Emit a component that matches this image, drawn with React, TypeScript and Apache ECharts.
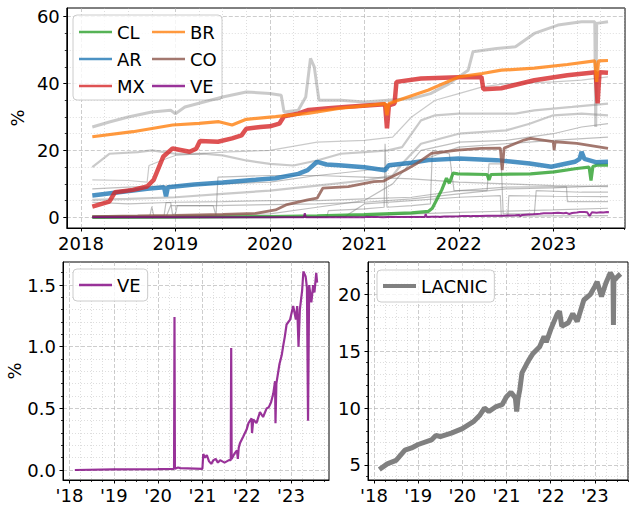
import React, { useEffect, useRef } from 'react';
import * as echarts from 'echarts';

type P = [number, number];

// ---------- tick labels ----------
const YEAR_TICKS = [2018, 2019, 2020, 2021, 2022, 2023];
const TOP_YEAR_LABELS = ['2018', '2019', '2020', '2021', '2022', '2023'];
const SHORT_YEAR_LABELS = ["'18", "'19", "'20", "'21", "'22", "'23"];
const TOP_Y_TICKS = [0, 20, 40, 60];
const VE_Y_TICKS = [0, 0.5, 1.0, 1.5];
const VE_Y_LABELS = ['0.0', '0.5', '1.0', '1.5'];
const LACNIC_Y_TICKS = [5, 10, 15, 20];

// ---------- highlighted countries ([year, %]) ----------
const CL: P[] = [[2018.12, 0.0], [2019.0, 0.05], [2020.0, 0.2], [2020.5, 0.4], [2021.0, 0.8], [2021.5, 1.3], [2021.68, 1.8], [2021.72, 2.7], [2021.82, 8.2], [2021.87, 11.7], [2021.9, 10.2], [2021.94, 13.2], [2021.99, 13], [2022.3, 12.8], [2022.32, 11.2], [2022.34, 12.8], [2022.76, 13], [2023.01, 13.6], [2023.25, 14.6], [2023.38, 15], [2023.4, 11], [2023.42, 15.2], [2023.46, 15.6], [2023.58, 15.6]];
const AR: P[] = [[2018.12, 6.5], [2018.4, 7.5], [2018.7, 8.5], [2018.88, 9.0], [2018.9, 6.3], [2018.92, 9.0], [2019.2, 9.8], [2019.5, 10.4], [2019.85, 11.2], [2020.06, 11.7], [2020.3, 13], [2020.4, 14.1], [2020.5, 16.6], [2020.6, 15.8], [2020.73, 15.6], [2021.0, 15.0], [2021.22, 14.1], [2021.26, 15.6], [2021.5, 16.3], [2021.68, 17.1], [2022.0, 17.6], [2022.4, 17.1], [2022.75, 16.1], [2022.98, 15.1], [2023.23, 16.6], [2023.28, 17.5], [2023.3, 19.6], [2023.33, 17.5], [2023.45, 16.5], [2023.58, 16.6]];
const MX: P[] = [[2018.12, 3.2], [2018.3, 4.7], [2018.36, 7.5], [2018.55, 8.2], [2018.7, 9.2], [2018.77, 11.2], [2018.87, 18.1], [2018.97, 20.6], [2019.15, 19.6], [2019.22, 20.5], [2019.26, 22.8], [2019.45, 22.6], [2019.6, 23.6], [2019.7, 24.5], [2019.75, 26.5], [2019.9, 27], [2020.0, 27.2], [2020.1, 28], [2020.15, 30.2], [2020.3, 31], [2020.41, 32.1], [2020.62, 32.6], [2020.83, 33.1], [2021.1, 33.6], [2021.22, 33.8], [2021.24, 26.6], [2021.26, 33.5], [2021.32, 34], [2021.34, 40.5], [2021.6, 41.5], [2022.0, 41.9], [2022.24, 42.0], [2022.26, 38.3], [2022.45, 38.6], [2022.8, 41], [2023.15, 42.5], [2023.45, 43.4], [2023.47, 34.1], [2023.49, 43.4], [2023.58, 43.2]];
const BR: P[] = [[2018.12, 24.1], [2018.55, 25.6], [2018.97, 27.6], [2019.25, 28.1], [2019.46, 28.6], [2019.6, 27.6], [2019.75, 29.3], [2020.06, 30.1], [2020.4, 31.1], [2020.73, 32.6], [2021.1, 33.6], [2021.22, 34], [2021.24, 30.5], [2021.26, 34], [2021.36, 35], [2021.68, 38.1], [2022.0, 42], [2022.25, 43], [2022.45, 44], [2022.8, 44.6], [2023.15, 45.7], [2023.44, 46.8], [2023.46, 40.5], [2023.48, 46.8], [2023.58, 46.9]];
const CO: P[] = [[2018.12, 0.2], [2018.6, 0.4], [2019.0, 0.6], [2019.5, 0.9], [2019.85, 1.2], [2020.06, 2.2], [2020.17, 3.7], [2020.4, 5.2], [2020.5, 5.7], [2020.56, 8.7], [2020.83, 9.2], [2021.1, 10.7], [2021.2, 10.8], [2021.26, 11.7], [2021.43, 14.1], [2021.55, 16], [2021.71, 19.1], [2021.99, 20.1], [2022.24, 20.6], [2022.44, 20.7], [2022.46, 14.1], [2022.48, 20.7], [2022.69, 23.1], [2022.76, 23.6], [2023.0, 22.6], [2023.01, 20.1], [2023.02, 22.6], [2023.25, 22.1], [2023.58, 20.6]];
const VE: P[] = [[2018.12, 0], [2019.0, 0.005], [2020.0, 0.008], [2020.36, 0.01], [2020.37, 1.24], [2020.38, 0.01], [2020.45, 0.02], [2020.5, 0.015], [2021.0, 0.01], [2021.02, 0.13], [2021.06, 0.1], [2021.1, 0.12], [2021.15, 0.07], [2021.2, 0.05], [2021.25, 0.08], [2021.3, 0.09], [2021.35, 0.06], [2021.4, 0.08], [2021.5, 0.06], [2021.6, 0.08], [2021.64, 0.08], [2021.65, 0.99], [2021.66, 0.09], [2021.72, 0.13], [2021.78, 0.16], [2021.8, 0.09], [2021.82, 0.18], [2021.85, 0.22], [2021.92, 0.27], [2022.0, 0.33], [2022.04, 0.38], [2022.11, 0.42], [2022.12, 0.3], [2022.15, 0.41], [2022.22, 0.38], [2022.3, 0.47], [2022.37, 0.43], [2022.45, 0.5], [2022.5, 0.51], [2022.55, 0.55], [2022.6, 0.62], [2022.64, 0.72], [2022.65, 0.38], [2022.67, 0.7], [2022.74, 0.86], [2022.79, 0.93], [2022.83, 1.02], [2022.86, 1.08], [2022.9, 1.18], [2022.98, 1.22], [2023.05, 1.33], [2023.11, 1.22], [2023.14, 1.33], [2023.17, 1.0], [2023.2, 1.3], [2023.25, 1.45], [2023.28, 1.61], [2023.33, 1.57], [2023.36, 1.48], [2023.385, 0.4], [2023.41, 1.5], [2023.46, 1.36], [2023.5, 1.5], [2023.53, 1.44], [2023.57, 1.6], [2023.59, 1.52]];
const LACNIC: P[] = [[2018.12, 4.6], [2018.3, 5.1], [2018.5, 5.4], [2018.7, 6.3], [2018.85, 6.5], [2019.0, 6.8], [2019.3, 7.2], [2019.4, 7.6], [2019.5, 7.5], [2019.75, 7.8], [2020.0, 8.2], [2020.25, 8.8], [2020.4, 9.4], [2020.5, 10.0], [2020.6, 9.7], [2020.75, 10.1], [2020.9, 10.3], [2021.0, 11.0], [2021.1, 11.4], [2021.2, 10.9], [2021.23, 9.7], [2021.26, 10.8], [2021.3, 11.6], [2021.35, 13.1], [2021.5, 14.2], [2021.6, 14.8], [2021.75, 15.4], [2021.85, 16.3], [2021.9, 15.8], [2022.0, 16.9], [2022.15, 18.3], [2022.2, 18.5], [2022.25, 17.2], [2022.4, 17.5], [2022.5, 18.3], [2022.6, 17.6], [2022.75, 19.5], [2022.9, 20.0], [2023.0, 20.7], [2023.05, 21.1], [2023.15, 19.8], [2023.25, 21.0], [2023.35, 21.9], [2023.41, 21.5], [2023.42, 17.3], [2023.43, 21.2], [2023.5, 21.5], [2023.58, 21.8]];

// ---------- other LACNIC countries (grey) ----------
const OTHER_A: P[] = [[2018.12, 27], [2018.3, 28.5], [2018.5, 30], [2018.75, 31.5], [2018.95, 32], [2019.0, 31], [2019.1, 33], [2019.3, 34.5], [2019.5, 36], [2019.75, 37.5], [2020.0, 37], [2020.12, 36.5], [2020.15, 31.5], [2020.3, 32], [2020.38, 36], [2020.43, 47.5], [2020.47, 45], [2020.52, 35], [2020.75, 35], [2021.0, 34.5], [2021.25, 35], [2021.5, 35.5], [2021.7, 37], [2021.9, 40], [2022.0, 42], [2022.1, 44], [2022.15, 49.5], [2022.4, 50.5], [2022.6, 51], [2022.8, 55], [2023.05, 57.5], [2023.3, 58.5], [2023.44, 58.5], [2023.45, 27], [2023.46, 58], [2023.58, 58.5]];
const OTHER_B: P[] = [[2018.12, 15], [2018.3, 19], [2018.6, 19.5], [2018.75, 20], [2019.0, 19], [2019.3, 19], [2019.5, 18.5], [2019.75, 17], [2020.0, 16], [2020.25, 15.5], [2020.5, 17], [2020.75, 19], [2021.0, 19.5], [2021.25, 20], [2021.4, 21], [2021.6, 29], [2021.75, 30.5], [2022.0, 31], [2022.6, 31], [2022.8, 32], [2023.2, 33], [2023.58, 34]];
const OTHER_C: P[] = [[2018.12, 11.2], [2018.5, 11], [2018.7, 10.5], [2018.72, 15.5], [2018.9, 17.5], [2019.0, 18.5], [2019.5, 19.5], [2020.0, 20], [2020.5, 22.5], [2021.0, 23], [2021.3, 24], [2021.5, 30], [2021.75, 35], [2022.0, 37], [2022.25, 39], [2022.5, 40], [2023.0, 40.5], [2023.3, 41], [2023.58, 42]];
const OTHER_D: P[] = [[2018.12, 5.2], [2018.5, 5.5], [2019.0, 6], [2019.5, 7], [2020.0, 8], [2020.5, 9.5], [2021.0, 11], [2021.3, 12.5], [2021.4, 16], [2021.6, 22], [2022.0, 25], [2022.5, 26], [2022.75, 28], [2023.0, 30.5], [2023.3, 31], [2023.58, 30.5]];
const OTHER_E: P[] = [[2018.12, 0.3], [2019.0, 0.5], [2020.0, 1], [2020.5, 3], [2021.0, 5], [2021.3, 10], [2021.6, 20], [2022.0, 22.5], [2022.5, 23], [2023.0, 25], [2023.3, 27], [2023.58, 28]];
const OTHER_F: P[] = [[2018.12, 8.5], [2018.5, 9], [2019.0, 9.5], [2019.5, 10], [2020.0, 10.5], [2020.5, 12.5], [2021.0, 14], [2021.5, 16], [2021.8, 19], [2022.0, 21], [2022.5, 22], [2023.0, 23], [2023.58, 24]];
const OTHER_G: P[] = [[2018.12, 0], [2018.9, 0], [2018.95, 3.5], [2019.4, 3.5], [2019.43, 0.5], [2019.45, 12], [2020.0, 12.5], [2020.5, 12.5], [2021.0, 12], [2021.5, 11.5], [2022.0, 10.5], [2022.5, 10], [2023.0, 9.5], [2023.58, 9.2]];
const OTHER_H: P[] = [[2018.12, 0.1], [2020.5, 0.2], [2020.8, 0.3], [2021.0, 4], [2021.5, 5], [2022.0, 6], [2022.44, 6.5], [2022.45, 0.5], [2022.52, 0.5], [2022.53, 6.5], [2023.0, 6.3], [2023.58, 6.2]];
const OTHER_I: P[] = [[2018.12, 4.5], [2018.5, 4], [2019.0, 4.5], [2019.5, 4.7], [2020.0, 5], [2020.5, 5], [2021.0, 5.5], [2021.5, 6], [2022.0, 8], [2022.5, 9], [2023.14, 9.2], [2023.15, 4.7], [2023.58, 4.7]];
const OTHER_J: P[] = [[2018.12, 0], [2020.5, 0.2], [2021.0, 0.5], [2022.0, 1.5], [2023.0, 2.2], [2023.58, 2.7]];
const OTHER_K: P[] = [[2018.12, 0.1], [2021.0, 0.2], [2022.0, 0.3], [2023.58, 0.5]];
const OTHER_L: P[] = [[2018.12, 0], [2020.6, 0], [2020.62, 2], [2021.0, 2.5], [2021.21, 3], [2021.22, 22], [2021.24, 3], [2021.5, 3.5], [2021.7, 4], [2021.72, 20], [2021.9, 19], [2021.95, 8], [2022.3, 8], [2022.32, 16], [2022.45, 16], [2022.47, 1], [2022.8, 1], [2022.82, 8], [2023.3, 7.5], [2023.58, 7.5]];
const OTHER_M: P[] = [[2018.12, 0.5], [2018.73, 0.5], [2018.75, 3.2], [2018.77, 0.5], [2018.88, 0.5], [2018.9, 4.4], [2018.95, 4.4], [2018.97, 0.8], [2019.0, 1], [2019.02, 3.5], [2019.4, 3.5], [2020.0, 3.8], [2020.5, 4], [2021.0, 4.5], [2021.5, 5.5], [2022.0, 7], [2022.5, 8.5], [2023.0, 8.8], [2023.58, 9.5]];

const OTHERS: P[][] = [OTHER_A, OTHER_B, OTHER_C, OTHER_D, OTHER_E, OTHER_F, OTHER_G, OTHER_H, OTHER_I, OTHER_J, OTHER_K, OTHER_L, OTHER_M];
const OTHER_WIDTHS = [3, 2.2, 1.2, 2.2, 1.2, 1.2, 1.2, 1.2, 1.2, 1.2, 1.2, 1.2, 1.2];

const FONT = 'DejaVu Sans, sans-serif';

const quarterMinors = (min: number, max: number) => {
  const out: number[] = [];
  for (let y = 2017; y <= 2024; y++) {
    for (const q of [0.25, 0.5, 0.75]) {
      const v = y + q;
      if (v >= min && v <= max) out.push(v);
    }
  }
  return out;
};
const stepMinors = (from: number, to: number, step: number, majorStep: number) => {
  const out: number[] = [];
  const n = Math.round((to - from) / step);
  for (let i = 0; i <= n; i++) {
    const v = Math.round((from + i * step) * 1000) / 1000;
    const r = v / majorStep;
    if (Math.abs(r - Math.round(r)) > 1e-6) out.push(v);
  }
  return out;
};

const majorSplit = { show: true, lineStyle: { color: '#b0b0b0', width: 0.8, type: [4, 2], opacity: 0.8 } };
const minorSplit = { show: true, lineStyle: { color: '#b0b0b0', width: 0.7, type: [1, 2], opacity: 0.6 } };

function makeX(gridIndex: number, min: number, max: number, labels: string[]) {
  const base = { type: 'value', gridIndex, min, max, position: 'bottom' };
  return [
    {
      ...base,
      axisLine: { show: true, onZero: false, lineStyle: { color: '#000', width: 1 } },
      axisTick: { show: true, inside: false, length: 3.5, customValues: YEAR_TICKS, lineStyle: { color: '#000', width: 1 } },
      axisLabel: {
        show: true, customValues: YEAR_TICKS, color: '#000', fontSize: 18, fontFamily: FONT, margin: 6,
        formatter: (v: number) => labels[YEAR_TICKS.indexOf(Math.round(v))] ?? '',
      },
      splitLine: majorSplit,
    },
    {
      ...base,
      axisLine: { show: false, onZero: false },
      axisTick: { show: true, inside: false, length: 2, customValues: quarterMinors(min, max), lineStyle: { color: '#000', width: 0.8 } },
      axisLabel: { show: false },
      splitLine: minorSplit,
    },
  ];
}

function makeY(gridIndex: number, min: number, max: number, ticks: number[], labels: string[], minors: number[], name: string, nameGap: number) {
  const base = { type: 'value', gridIndex, min, max, position: 'left' };
  return [
    {
      ...base,
      name, nameLocation: 'middle', nameRotate: 90, nameGap,
      nameTextStyle: { color: '#000', fontSize: 18, fontFamily: FONT },
      axisLine: { show: true, onZero: false, lineStyle: { color: '#000', width: 1 } },
      axisTick: { show: true, inside: false, length: 3.5, customValues: ticks, lineStyle: { color: '#000', width: 1 } },
      axisLabel: {
        show: true, customValues: ticks, color: '#000', fontSize: 18, fontFamily: FONT, margin: 7,
        formatter: (v: number) => {
          const i = ticks.findIndex((t) => Math.abs(t - v) < 1e-6);
          return i >= 0 ? labels[i] : '';
        },
      },
      splitLine: majorSplit,
    },
    {
      ...base,
      axisLine: { show: false, onZero: false },
      axisTick: { show: true, inside: false, length: 2, customValues: minors.filter((v) => v >= min && v <= max), lineStyle: { color: '#000', width: 0.8 } },
      axisLabel: { show: false },
      splitLine: minorSplit,
    },
  ];
}

const line = (name: string | undefined, data: P[], color: string, width: number, xi: number, yi: number, opacity = 0.8) => ({
  type: 'line', name, data, xAxisIndex: xi, yAxisIndex: yi,
  symbol: 'none', showSymbol: false, silent: true, clip: true,
  color, itemStyle: { color, opacity },
  lineStyle: { color, width, opacity },
  emphasis: { disabled: true },
});

const legendText = { color: '#000', fontSize: 18, fontFamily: FONT, lineHeight: 18 };

export default function App() {
  const ref = useRef<HTMLDivElement>(null);
  useEffect(() => {
    if (!ref.current) return;
    const chart = echarts.init(ref.current, undefined, { renderer: 'svg' });

    const TOP = { xmin: 2017.85, xmax: 2023.76, ymin: -3.2, ymax: 62.6 };
    const BL = { xmin: 2017.853, xmax: 2023.858, ymin: -0.081, ymax: 1.687 };
    const BRG = { xmin: 2017.864, xmax: 2023.75, ymin: 3.68, ymax: 22.84 };

    const series: any[] = [];
    OTHERS.forEach((d, i) => series.push(line(undefined, d, '#808080', OTHER_WIDTHS[i], 0, 0, i < 4 ? 0.42 : 0.5)));
    series.push(line('CL', CL, '#2ca02c', 3.2, 0, 0));
    series.push(line('AR', AR, '#1f77b4', 4.5, 0, 0));
    series.push(line('MX', MX, '#d62728', 4.5, 0, 0));
    series.push(line('BR', BR, '#ff7f0e', 3.2, 0, 0));
    series.push(line('CO', CO, '#8c564b', 2.8, 0, 0));
    series.push(line('VE', VE, '#800080', 2, 0, 0));
    series.push(line('VE', VE, '#800080', 2.2, 2, 2));
    series.push(line('LACNIC', LACNIC, '#808080', 5, 4, 4, 1));

    chart.setOption({
      animation: false,
      backgroundColor: '#fff',
      textStyle: { fontFamily: FONT },
      grid: [
        { left: 63, top: 8, width: 562, height: 220, show: true, borderColor: '#000', borderWidth: 1, backgroundColor: 'transparent' },
        { left: 63, top: 262, width: 266, height: 218, show: true, borderColor: '#000', borderWidth: 1, backgroundColor: 'transparent' },
        { left: 368, top: 262, width: 260, height: 218, show: true, borderColor: '#000', borderWidth: 1, backgroundColor: 'transparent' },
      ],
      xAxis: [
        ...makeX(0, TOP.xmin, TOP.xmax, TOP_YEAR_LABELS),
        ...makeX(1, BL.xmin, BL.xmax, SHORT_YEAR_LABELS),
        ...makeX(2, BRG.xmin, BRG.xmax, SHORT_YEAR_LABELS),
      ],
      yAxis: [
        ...makeY(0, TOP.ymin, TOP.ymax, TOP_Y_TICKS, TOP_Y_TICKS.map(String), stepMinors(-5, 65, 5, 20), '%', 31),
        ...makeY(1, BL.ymin, BL.ymax, VE_Y_TICKS, VE_Y_LABELS, stepMinors(-0.1, 1.7, 0.1, 0.5), '%', 39),
        ...makeY(2, BRG.ymin, BRG.ymax, LACNIC_Y_TICKS, LACNIC_Y_TICKS.map(String), stepMinors(3, 23, 1, 5), '', 30),
      ],
      legend: [
        { data: ['CL', 'AR', 'MX'], orient: 'vertical', left: 79, top: 23, padding: 0, itemWidth: 33, itemHeight: 2.5, itemGap: 9, icon: 'rect', selectedMode: false, textStyle: legendText, itemStyle: { opacity: 0.8 } },
        { data: ['BR', 'CO', 'VE'], orient: 'vertical', left: 152, top: 23, padding: 0, itemWidth: 33, itemHeight: 2.5, itemGap: 9, icon: 'rect', selectedMode: false, textStyle: legendText, itemStyle: { opacity: 0.8 } },
        { data: ['VE'], orient: 'vertical', left: 73, top: 269, padding: [7, 7, 7, 6], itemWidth: 33, itemHeight: 2.5, icon: 'rect', selectedMode: false, textStyle: legendText, itemStyle: { opacity: 0.8 }, backgroundColor: 'rgba(255,255,255,0.8)', borderColor: '#cccccc', borderWidth: 1, borderRadius: 4 },
        { data: ['LACNIC'], orient: 'vertical', left: 377, top: 270, padding: [7, 7, 7, 6], itemWidth: 33, itemHeight: 4, icon: 'rect', selectedMode: false, textStyle: legendText, backgroundColor: 'rgba(255,255,255,0.8)', borderColor: '#cccccc', borderWidth: 1, borderRadius: 4 },
      ],
      graphic: [
        { type: 'rect', z: 3, silent: true, shape: { x: 73, y: 15, width: 149, height: 85, r: 4 }, style: { fill: 'rgba(255,255,255,0.8)', stroke: '#cccccc', lineWidth: 1 } },
      ],
      series,
    });
    return () => chart.dispose();
  }, []);
  return <div ref={ref} style={{ position: 'fixed', left: 0, top: 0, width: 629, height: 508, background: '#fff' }} />;
}
